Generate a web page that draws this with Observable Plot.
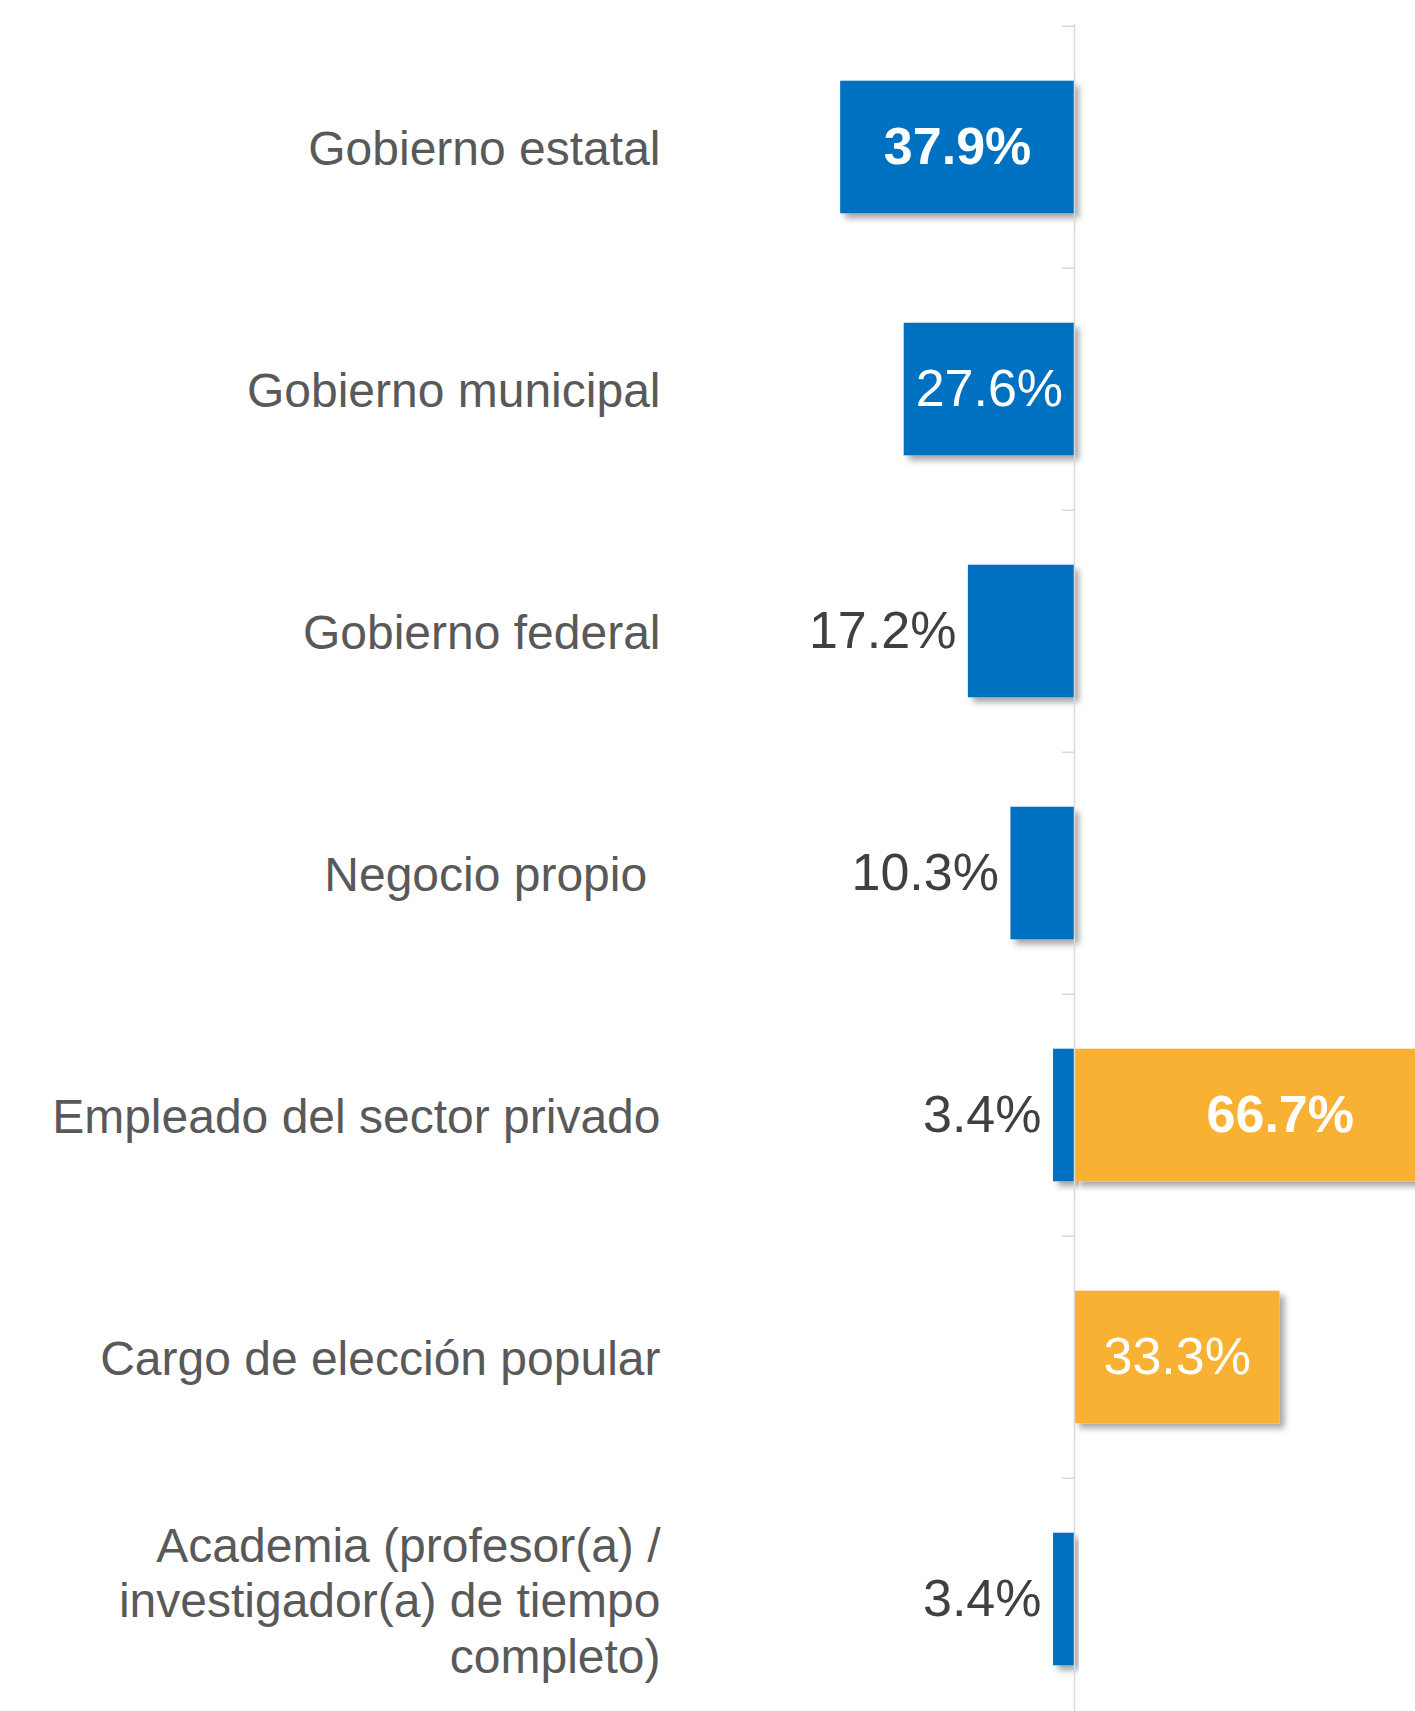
<!DOCTYPE html>
<html><head><meta charset="utf-8">
<script src="https://cdn.jsdelivr.net/npm/d3@7"></script>
<script src="https://cdn.jsdelivr.net/npm/@observablehq/plot@0.6"></script>
<style>
html,body{margin:0;padding:0;background:#fff;overflow:hidden;}
</style></head><body><div id="chart"></div>
<script>
// ---- data ----
const categories = [
  "Gobierno estatal",
  "Gobierno municipal",
  "Gobierno federal",
  "Negocio propio ",
  "Empleado del sector privado",
  "Cargo de elección popular",
  "Academia (profesor(a) /\ninvestigador(a) de tiempo\ncompleto)"
];
const seriesNames = ["Serie 1", "Serie 2"];
const seriesA = [37.9, 27.6, 17.2, 10.3, 3.4, null, 3.4];   // blue, drawn to the left
const seriesB = [null, null, null, null, 66.7, 33.3, null]; // orange, drawn to the right
const seriesColors = ["#0070C0", "#F8B133"];

// ---- build rows ----
const rows = [];
categories.forEach((c, i) => {
  if (seriesA[i] != null) rows.push({category: c, series: seriesNames[0], value: seriesA[i], x1: -seriesA[i], x2: 0});
  if (seriesB[i] != null) rows.push({category: c, series: seriesNames[1], value: seriesB[i], x1: 0, x2: seriesB[i]});
});
const maxBy = {};
rows.forEach(r => { maxBy[r.series] = Math.max(maxBy[r.series] ?? -Infinity, r.value); });
const fmt = v => v.toFixed(1) + "%";
const inside = rows.filter(r => r.value > 20);
const outside = rows.filter(r => r.value <= 20);
const insideBold = inside.filter(r => r.value === maxBy[r.series]);
const insideNormal = inside.filter(r => r.value !== maxBy[r.series]);

const W = 1415, H = 1721, mTop = 24, mLeft = 660;
const pxPerUnit = 6.17, zeroX = 1074;
const step = (H - mTop) / categories.length;
const barH = 133;
const inset = (step - barH) / 2;
const font = "Liberation Sans, Arial, Helvetica, sans-serif";

const plot = Plot.plot({
  width: W,
  height: H,
  marginTop: mTop,
  marginBottom: 0,
  marginLeft: mLeft,
  marginRight: 0,
  style: {fontFamily: font, background: "white", overflow: "hidden"},
  x: {domain: [-(zeroX - mLeft) / pxPerUnit, (W - zeroX) / pxPerUnit], axis: null},
  y: {domain: categories, padding: 0, axis: null},
  color: {domain: seriesNames, range: seriesColors},
  marks: [
    Plot.barX(rows, {x1: "x1", x2: "x2", y: "category", fill: "series", insetTop: inset, insetBottom: inset, clip: true}),
    Plot.ruleX([0], {stroke: "#d9d9d9", strokeWidth: 1.5}),
    Plot.ruleY(categories, {y: d => d, x1: -1.95, x2: 0, dy: -step / 2, stroke: "#d9d9d9", strokeWidth: 1.5}),
    Plot.text(categories, {y: d => d, frameAnchor: "left", textAnchor: "end", fontSize: 48, fill: "#595959", lineHeight: 1.16}),
    Plot.text(insideBold, {x: d => (d.x1 + d.x2) / 2, y: "category", text: d => fmt(d.value), fill: "white", fontSize: 52, fontWeight: "bold"}),
    Plot.text(insideNormal, {x: d => (d.x1 + d.x2) / 2, y: "category", text: d => fmt(d.value), fill: "white", fontSize: 52}),
    Plot.text(outside, {x: "x1", y: "category", text: d => fmt(d.value), textAnchor: "end", dx: -12, fill: "#404040", fontSize: 52})
  ]
});

// drop shadow on bars
const ns = "http://www.w3.org/2000/svg";
const defs = document.createElementNS(ns, "defs");
defs.innerHTML = '<filter id="shadow" x="-10%" y="-10%" width="130%" height="130%"><feDropShadow dx="5" dy="5" stdDeviation="3" flood-color="#000" flood-opacity="0.35"/></filter>';
plot.insertBefore(defs, plot.firstChild);
plot.querySelectorAll('g[aria-label="bar"] rect').forEach(r => r.setAttribute("filter", "url(#shadow)"));

document.getElementById("chart").appendChild(plot);
</script>
</body></html>
